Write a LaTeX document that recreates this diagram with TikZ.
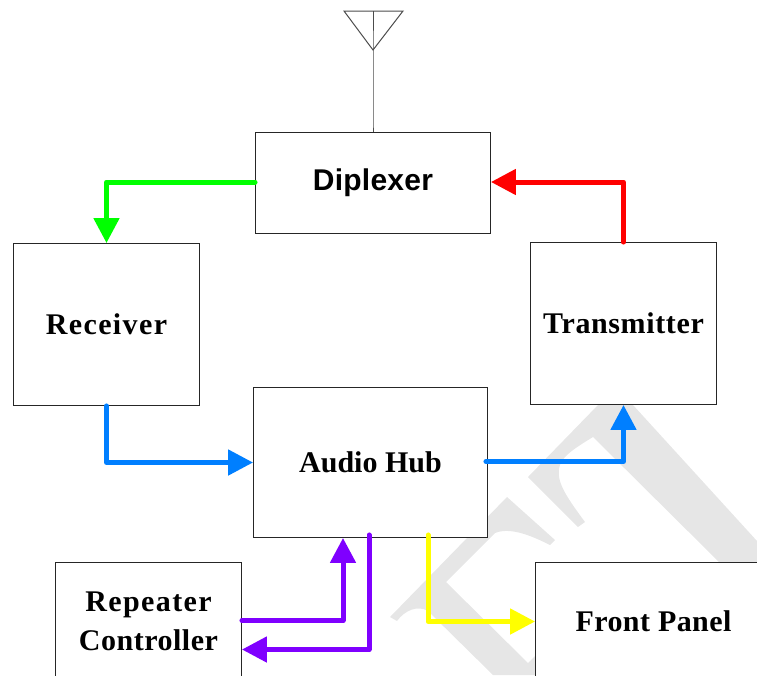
\documentclass[tikz,border=0pt]{standalone}
\usepackage{fontspec}
\setmainfont{Liberation Serif}
\newfontfamily\arialfont{Liberation Sans}
\usetikzlibrary{arrows.meta,calc}
\definecolor{wm}{HTML}{E6E6E6}
\definecolor{cgreen}{HTML}{00FF00}
\definecolor{cred}{HTML}{FF0000}
\definecolor{cblue}{HTML}{007FFF}
\definecolor{cpurple}{HTML}{7F00FF}
\definecolor{cyell}{HTML}{FFFF00}
\newcommand{\spc}[1]{\addfontfeature{LetterSpace=#1}}
\tikzset{
  blockbox/.style={draw=black!85,line width=0.9pt,fill=white,inner sep=0pt,align=center,font=\bfseries\fontsize{30}{39}\selectfont},
  flow/.style={line width=5pt,line join=round,line cap=round,-{Triangle[length=25pt,width=25pt]}},
  thin wire/.style={draw=black!70,line width=1pt}
}
\begin{document}
\begin{tikzpicture}[x=1pt,y=-1pt]
\useasboundingbox (0,0) rectangle (757,675);
\clip (0,0) rectangle (757,675);
% watermark
\fill[wm] (598,405) -- (528,477) -- (578,527) -- (585,522) .. controls (565,495) and (555,480) .. (560,465) .. controls (563,455) and (580,445) .. (593,437) -- (720,563) -- (757,563) -- (757,541) -- (633,405) -- cycle;
\fill[wm] (507,497) -- (390,617) -- (397,621) .. controls (405,610) and (418,605) .. (428,611) -- (493,675) -- (536,675) -- (536,655) -- (528,663) -- (446,582) -- (495,533) .. controls (510,527) and (530,535) .. (550,545) -- (555,540) -- cycle;
% blocks
\node[blockbox,font=\arialfont\bfseries\fontsize{30}{36}\selectfont,minimum width=235pt,minimum height=101pt] (dip) at (373,183) {\raisebox{-3pt}{\spc{0.8}Diplexer}};
\node[blockbox,minimum width=186pt,minimum height=162pt] (rx) at (106.5,324.5) {\raisebox{-1pt}{\spc{4.6}Receiver}};
\node[blockbox,minimum width=186pt,minimum height=162pt] (tx) at (623.5,323.5) {\spc{2.1}Transmitter};
\node[blockbox,minimum width=234pt,minimum height=150pt] (hub) at (370.5,462.5) {\raisebox{-2pt}{Audio Hub}};
\node[blockbox,minimum width=186pt,minimum height=118pt] (rep) at (148.5,621.5) {{\spc{4.6}Repeater}\\{\spc{1.7}Controller}};
\node[blockbox,minimum width=236pt,minimum height=118pt] (fp) at (653.5,621.5) {\spc{1.5}Front Panel};
% antenna
\coordinate (antL) at (344,11);
\coordinate (antR) at (403,11);
\coordinate (antT) at (373,11);
\coordinate (antB) at (373,50);
\coordinate (antK) at (373,124);
\draw[thin wire] (antL) -- (antR) -- (antB) -- cycle;
\draw[thin wire] (antT) -- (antB) -- (antK) -- (dip.north);
% connectors
\draw[flow,cgreen] ($(dip.west)+(0,-1)$) -| (rx.north);
\draw[flow,cred] (tx.north) |- ($(dip.east)+(0,-1)$);
\draw[flow,cblue] (rx.south) |- (hub.west);
\draw[flow,cblue] ($(hub.east)+(-2,-1)$) -| (tx.south);
\coordinate (hubIn) at (hub.south -| 343,0);
\coordinate (hubOut) at (hub.south -| 369,0);
\coordinate (hubY) at (hub.south -| 428,0);
\draw[flow,cpurple] ($(rep.east)+(0,-1)$) -| (hubIn);
\draw[flow,cpurple] ($(hubOut)+(0,-3)$) |- ($(rep.east)+(0,28)$);
\draw[flow,cyell] ($(hubY)+(0,-3)$) |- (fp.west);
\end{tikzpicture}
\end{document}
